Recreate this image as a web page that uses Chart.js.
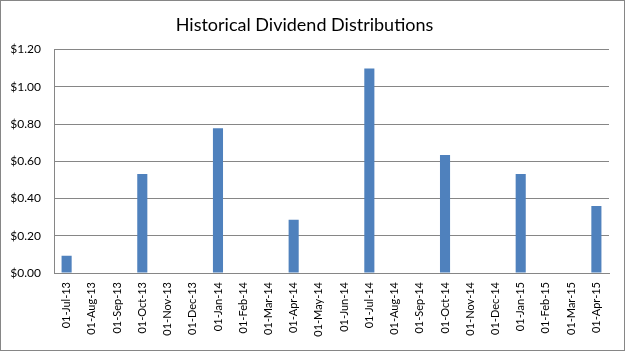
<!DOCTYPE html>
<html>
<head>
<meta charset="utf-8">
<script src="https://cdn.jsdelivr.net/npm/chart.js@4"></script>
<style>
  html, body { margin: 0; padding: 0; background: #fff; }
  #wrap { width: 625px; height: 351px; }
</style>
</head>
<body>
<div id="wrap"><canvas id="myChart" width="625" height="351"></canvas></div>
<script>
var months = [
  '01-Jul-13', '01-Aug-13', '01-Sep-13', '01-Oct-13', '01-Nov-13', '01-Dec-13',
  '01-Jan-14', '01-Feb-14', '01-Mar-14', '01-Apr-14', '01-May-14', '01-Jun-14',
  '01-Jul-14', '01-Aug-14', '01-Sep-14', '01-Oct-14', '01-Nov-14', '01-Dec-14',
  '01-Jan-15', '01-Feb-15', '01-Mar-15', '01-Apr-15'
];
var dividends = [
  0.093, null, null, 0.532, null, null,
  0.778, null, null, 0.286, null, null,
  1.098, null, null, 0.634, null, null,
  0.532, null, null, 0.36
];
var yTicks = [0, 0.2, 0.4, 0.6, 0.8, 1.0, 1.2];

var outerBorder = {
  id: 'outerBorder',
  afterDraw: function(chart) {
    var c = chart.ctx;
    c.save();
    c.strokeStyle = '#868686';
    c.lineWidth = 1;
    c.strokeRect(0.5, 0.5, chart.width - 1, chart.height - 1);
    c.restore();
  }
};

var ctx = document.getElementById('myChart').getContext('2d');
var myChart = new Chart(ctx, {
  type: 'bar',
  data: {
    labels: months,
    datasets: [{
      label: 'Dividend',
      data: dividends,
      backgroundColor: '#4F81BD',
      barPercentage: 0.4,
      categoryPercentage: 1.0
    }]
  },
  options: {
    responsive: false,
    animation: false,
    layout: { padding: { left: 0, right: 16, top: 0, bottom: 0 } },
    plugins: {
      legend: { display: false },
      tooltip: { enabled: false },
      title: {
        display: true,
        text: 'Historical Dividend Distributions',
        color: '#000',
        font: { family: 'Lato', size: 18, weight: 'normal' },
        padding: { top: 14, bottom: 14 }
      }
    },
    scales: {
      x: {
        grid: { display: false, drawTicks: false },
        border: { color: '#868686', width: 1 },
        ticks: {
          color: '#000',
          font: { family: 'Lato', size: 11 },
          minRotation: 90,
          maxRotation: 90,
          autoSkip: false,
          padding: 9
        },
        afterFit: function(scale) { scale.height = 78; }
      },
      y: {
        min: 0,
        max: 1.2,
        afterBuildTicks: function(scale) {
          scale.ticks = yTicks.map(function(v) { return { value: v }; });
        },
        grid: { color: '#868686', drawTicks: false },
        border: { color: '#868686', width: 1 },
        ticks: {
          color: '#000',
          font: { family: 'Lato', size: 12 },
          padding: 13,
          callback: function(v) { return '$' + Number(v).toFixed(2); }
        },
        afterFit: function(scale) { scale.width = 54; }
      }
    }
  },
  plugins: [outerBorder]
});
</script>
</body>
</html>
